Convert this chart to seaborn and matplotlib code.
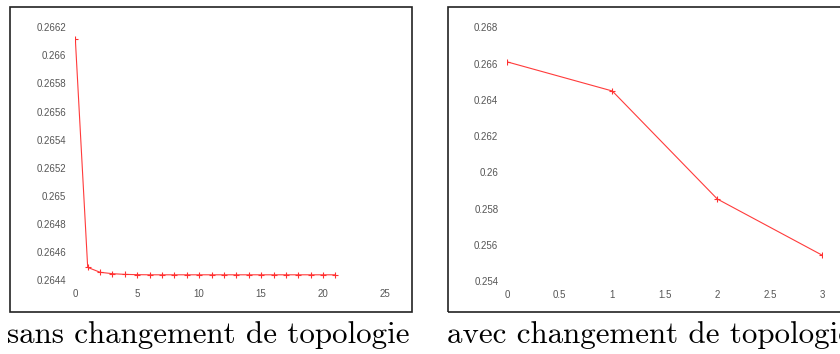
import matplotlib
matplotlib.use('Agg')
import matplotlib.pyplot as plt
import seaborn as sns
import pandas as pd
from matplotlib.patches import Rectangle
from matplotlib.ticker import FuncFormatter, MultipleLocator

# sans changement de topologie
iter_sans = list(range(22))
err_sans = [0.26612, 0.26449, 0.264455, 0.264445, 0.26444, 0.264438, 0.264437, 0.264437,
            0.264437, 0.264437, 0.264437, 0.264437, 0.264437, 0.264437, 0.264437, 0.264437,
            0.264437, 0.264437, 0.264437, 0.264437, 0.264437, 0.264437]

# avec changement de topologie
iter_avec = [0, 1, 2, 3]
err_avec = [0.26609, 0.264485, 0.258525, 0.25542]

captions = ['sans changement de topologie', 'avec changement de topologie']

sns.set_style('white')
plt.rcParams['font.family'] = ['Liberation Sans', 'DejaVu Sans']

W, H = 840, 354
fig = plt.figure(figsize=(W / 100, H / 100), dpi=100)


def px_axes(x0, x1, ytop, ybot):
    return fig.add_axes([x0 / W, (H - ybot) / H, (x1 - x0) / W, (ybot - ytop) / H])


def style(ax):
    for s in ax.spines.values():
        s.set_visible(False)
    ax.tick_params(length=0, labelsize=7, colors='#555555', pad=6.5)
    ax.yaxis.set_major_formatter(FuncFormatter(lambda v, p: '%g' % round(v, 6)))
    ax.xaxis.set_major_formatter(FuncFormatter(lambda v, p: '%g' % round(v, 6)))
    ax.set_xlabel('')
    ax.set_ylabel('')
    ax.patch.set_alpha(0)


line_kw = dict(color='#ff3b3b', linewidth=0.8, marker='+', markersize=4.5,
               markeredgewidth=0.8, markeredgecolor='#ff3030')

ax1 = px_axes(75.3, 385, 27.3, 280)
sns.lineplot(x=iter_sans, y=err_sans, ax=ax1, **line_kw)
ax1.set_xlim(0, 25)
ax1.set_ylim(0.2644, 0.2662)
ax1.xaxis.set_major_locator(MultipleLocator(5))
ax1.yaxis.set_major_locator(MultipleLocator(0.0002))
style(ax1)

ax2 = px_axes(507.3, 822.3, 27.3, 281)
sns.lineplot(x=iter_avec, y=err_avec, ax=ax2, **line_kw)
ax2.set_xlim(0, 3)
ax2.set_ylim(0.254, 0.268)
ax2.xaxis.set_major_locator(MultipleLocator(0.5))
ax2.yaxis.set_major_locator(MultipleLocator(0.002))
style(ax2)

# frames around each panel
for x0, x1 in [(10, 411.7), (447.7, 860)]:
    fig.patches.append(Rectangle((x0 / W, (H - 312.3) / H), (x1 - x0) / W, (312.3 - 7) / H,
                                 transform=fig.transFigure, fill=False,
                                 edgecolor='#222222', linewidth=1.2, clip_on=False))

for x0, txt in zip([7, 446.7], captions):
    fig.text(x0 / W, 11.3 / H, txt, family='cmr10', fontsize=22.3,
             ha='left', va='baseline', color='black')

fig.savefig('out.png', dpi=100)
